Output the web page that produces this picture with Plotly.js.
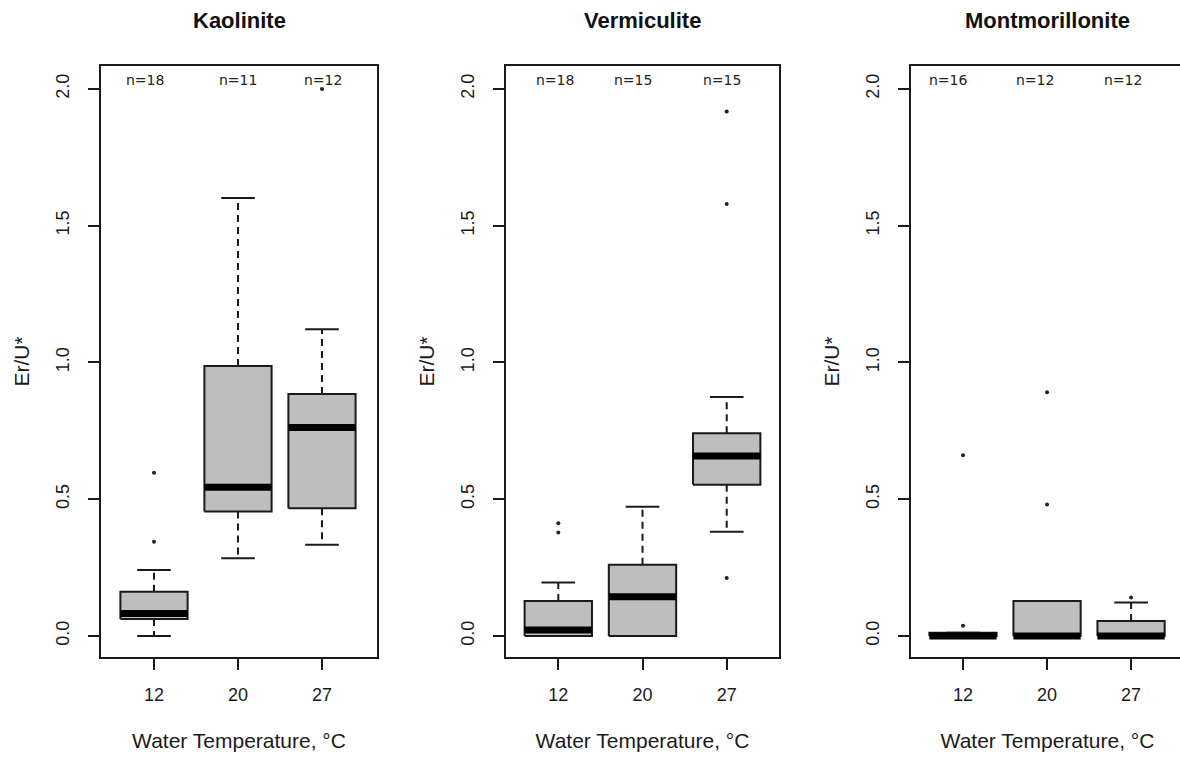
<!DOCTYPE html>
<html>
<head>
<meta charset="utf-8">
<script src="https://cdn.plot.ly/plotly-3.0.1.min.js"></script>
<style>
html, body { margin: 0; padding: 0; overflow: hidden; background: #fff; }
#chart { width: 1190px; height: 757px; }
</style>
</head>
<body>
<div id="chart"></div>
<script>
// ---- data ----
const categories = ['12', '20', '27'];
const minerals = ['Kaolinite', 'Vermiculite', 'Montmorillonite'];

const kaolN      = [18, 11, 12];
const kaolLow    = [0.000, 0.284, 0.333];
const kaolQ1     = [0.062, 0.455, 0.467];
const kaolMedian = [0.082, 0.544, 0.762];
const kaolQ3     = [0.162, 0.987, 0.885];
const kaolHigh   = [0.241, 1.601, 1.121];
const kaolOut    = [[0.597, 0.344], [], [2.000]];

const vermN      = [18, 15, 15];
const vermLow    = [0.000, 0.000, 0.381];
const vermQ1     = [0.000, 0.000, 0.553];
const vermMedian = [0.022, 0.143, 0.658];
const vermQ3     = [0.128, 0.260, 0.741];
const vermHigh   = [0.195, 0.472, 0.874];
const vermOut    = [[0.412, 0.378], [], [0.212, 1.579, 1.918]];

const montN      = [16, 12, 12];
const montLow    = [0.000, 0.000, 0.000];
const montQ1     = [0.000, 0.000, 0.000];
const montMedian = [0.000, 0.000, 0.000];
const montQ3     = [0.012, 0.128, 0.055];
const montHigh   = [0.012, 0.128, 0.122];
const montOut    = [[0.661, 0.037], [0.891, 0.481], [0.141]];

const yTickVals = [0, 0.5, 1.0, 1.5, 2.0];

// ---- style ----
const panelsData = [
  {n: kaolN, lo: kaolLow, q1: kaolQ1, med: kaolMedian, q3: kaolQ3, hi: kaolHigh, out: kaolOut},
  {n: vermN, lo: vermLow, q1: vermQ1, med: vermMedian, q3: vermQ3, hi: vermHigh, out: vermOut},
  {n: montN, lo: montLow, q1: montQ1, med: montMedian, q3: montQ3, hi: montHigh, out: montOut}
];
const W = 1190, H = 757;
const xDomainsPx = [[101, 377], [506, 779], [911, 1184]];
const xRanges = [[0.369, 3.655], [0.379, 3.621], [0.381, 3.63]];
const nShift = [[-9, 0, 1], [-3, -10, -5], [-15, -12, -8]];
const yDomain = [(H - 657) / H, (H - 66) / H];
const yRange = [-0.077, 2.084];
const BOX_HALF = 0.4, CAP_HALF = 0.2;
const INK = '#1a1a1a';
const BOX_FILL = '#BEBEBE';
const SANS = 'Liberation Sans, Arial, sans-serif';

const traces = [];
const layout = {
  width: W, height: H,
  margin: {l: 0, r: 0, t: 0, b: 0},
  paper_bgcolor: '#fff', plot_bgcolor: '#fff',
  showlegend: false,
  font: {family: SANS, color: INK},
  annotations: []
};

panelsData.forEach((p, k) => {
  const sfx = k === 0 ? '' : String(k + 1);
  const xa = 'x' + sfx, ya = 'y' + sfx;
  const pos = categories.map((c, i) => i + 1);

  // whiskers (dashed) and caps
  const wx = [], wy = [], cx = [], cy = [];
  pos.forEach((x, i) => {
    wx.push(x, x, null, x, x, null);
    wy.push(p.q3[i], p.hi[i], null, p.q1[i], p.lo[i], null);
    cx.push(x - CAP_HALF, x + CAP_HALF, null, x - CAP_HALF, x + CAP_HALF, null);
    cy.push(p.hi[i], p.hi[i], null, p.lo[i], p.lo[i], null);
  });
  traces.push({type: 'scatter', mode: 'lines', x: wx, y: wy, xaxis: xa, yaxis: ya,
    line: {color: INK, width: 2, dash: '7px,5px'}, hoverinfo: 'skip'});
  traces.push({type: 'scatter', mode: 'lines', x: cx, y: cy, xaxis: xa, yaxis: ya,
    line: {color: INK, width: 2}, hoverinfo: 'skip'});

  // boxes
  pos.forEach((x, i) => {
    traces.push({type: 'scatter', mode: 'lines', fill: 'toself', fillcolor: BOX_FILL,
      x: [x - BOX_HALF, x + BOX_HALF, x + BOX_HALF, x - BOX_HALF, x - BOX_HALF],
      y: [p.q1[i], p.q1[i], p.q3[i], p.q3[i], p.q1[i]],
      xaxis: xa, yaxis: ya, line: {color: INK, width: 2}, hoverinfo: 'skip'});
  });

  // medians
  const mx = [], my = [];
  pos.forEach((x, i) => { mx.push(x - BOX_HALF, x + BOX_HALF, null); my.push(p.med[i], p.med[i], null); });
  traces.push({type: 'scatter', mode: 'lines', x: mx, y: my, xaxis: xa, yaxis: ya,
    line: {color: '#000', width: 7}, hoverinfo: 'skip'});

  // outliers
  const ox = [], oy = [];
  pos.forEach((x, i) => p.out[i].forEach(v => { ox.push(x); oy.push(v); }));
  traces.push({type: 'scatter', mode: 'markers', x: ox, y: oy, xaxis: xa, yaxis: ya,
    marker: {color: '#222', size: 4, symbol: 'circle'}, hoverinfo: 'skip'});

  const dom = [xDomainsPx[k][0] / W, xDomainsPx[k][1] / W];
  layout['xaxis' + sfx] = {
    domain: dom, range: xRanges[k], anchor: ya,
    tickvals: pos, ticktext: categories,
    ticks: 'outside', ticklen: 11, tickwidth: 2, tickcolor: INK,
    showline: true, mirror: true, linewidth: 2, linecolor: INK,
    showgrid: false, zeroline: false,
    tickfont: {family: SANS, size: 18, color: INK},
    ticklabelstandoff: 9,
    title: {text: 'Water Temperature, °C', standoff: 30,
      font: {family: SANS, size: 21, color: INK}}
  };
  layout['yaxis' + sfx] = {
    domain: yDomain, range: yRange, anchor: xa,
    tickvals: yTickVals, tickformat: '.1f', tickangle: -90,
    ticks: 'outside', ticklen: 11, tickwidth: 2, tickcolor: INK,
    showline: true, mirror: true, linewidth: 2, linecolor: INK,
    showgrid: false, zeroline: false,
    tickfont: {family: SANS, size: 18, color: INK},
    ticklabelstandoff: 12,
    title: {text: 'Er/U*', standoff: 17,
      font: {family: SANS, size: 21, color: INK}}
  };

  // panel title
  layout.annotations.push({
    xref: 'paper', yref: 'paper', x: (dom[0] + dom[1]) / 2, y: 1 - 20 / H,
    xanchor: 'center', yanchor: 'middle', showarrow: false,
    text: '<b>' + minerals[k] + '</b>',
    font: {family: SANS, size: 22, color: '#111'}
  });
  // n= labels
  pos.forEach((x, i) => {
    layout.annotations.push({
      xref: xa, yref: ya, x: x, y: 2.033, xshift: nShift[k][i],
      xanchor: 'center', yanchor: 'middle', showarrow: false,
      text: 'n=' + p.n[i],
      font: {family: 'DejaVu Sans, sans-serif', size: 14, color: '#222'}
    });
  });
});

Plotly.newPlot('chart', traces, layout, {staticPlot: true, displayModeBar: false});
</script>
</body>
</html>
